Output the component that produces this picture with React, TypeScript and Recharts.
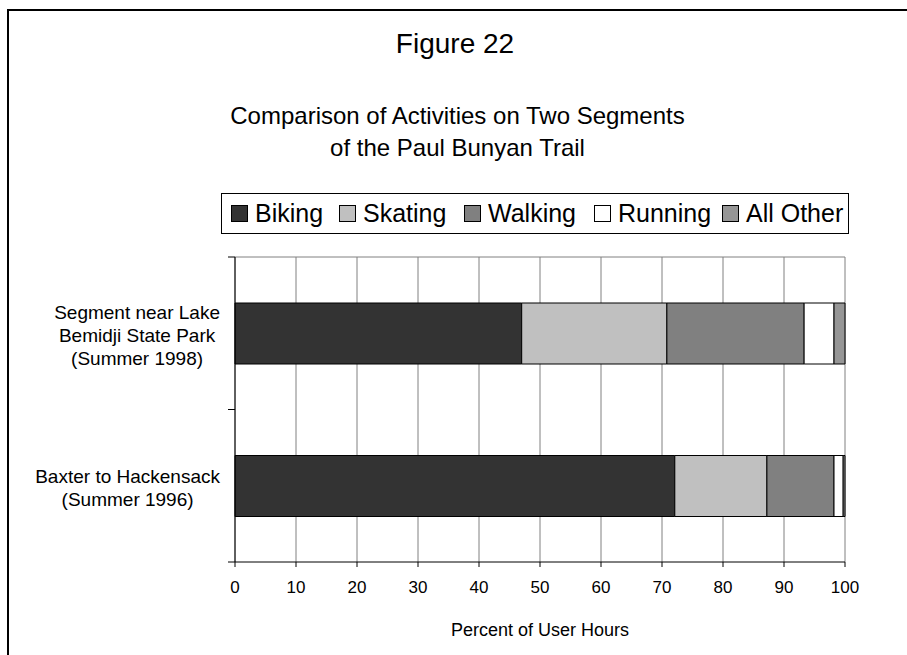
import React from "react";
import { BarChart, Bar, XAxis, YAxis, CartesianGrid, Legend } from "recharts";

const FONT = '"Liberation Sans", Arial, sans-serif';

const segments = [
  "Segment near Lake\nBemidji State Park\n(Summer 1998)",
  "Baxter to Hackensack\n(Summer 1996)",
];
const biking = [47, 72.1];
const skating = [23.8, 15.1];
const walking = [22.5, 11];
const running = [4.9, 1.5];
const allOther = [1.8, 0.3];
const xTicks = [0, 10, 20, 30, 40, 50, 60, 70, 80, 90, 100];

const series = [
  { key: "biking", name: "Biking", color: "#333333" },
  { key: "skating", name: "Skating", color: "#c0c0c0" },
  { key: "walking", name: "Walking", color: "#808080" },
  { key: "running", name: "Running", color: "#ffffff" },
  { key: "allOther", name: "All Other", color: "#969696" },
];

const data = segments.map((name, i) => ({
  name,
  biking: biking[i],
  skating: skating[i],
  walking: walking[i],
  running: running[i],
  allOther: allOther[i],
}));

// plot box
const PLOT_LEFT = 235;
const PLOT_TOP = 257;
const PLOT_BOTTOM = 562;
const PLOT_RIGHT = 845;
const HALF_BAND = (PLOT_BOTTOM - PLOT_TOP) / segments.length / 2;

const LABEL_SIZE = 19;
const LABEL_LINE = 23;

// legend swatch x offsets inside the legend box
const LEGEND_X = [9, 117, 242, 372, 500];

let ctx: CanvasRenderingContext2D | null = null;
function textWidth(s: string, size: number) {
  if (!ctx) ctx = document.createElement("canvas").getContext("2d");
  if (!ctx) return s.length * size * 0.5;
  ctx.font = `${size}px ${FONT}`;
  return ctx.measureText(s).width;
}

function SegmentTick(props: any) {
  const { y, payload } = props;
  const lines: string[] = String(payload.value).split("\n");
  const w = Math.max(...lines.map((l) => textWidth(l, LABEL_SIZE)));
  const cx = 220 - w / 2;
  const startY = y + 2 - ((lines.length - 1) * LABEL_LINE) / 2;
  return (
    <g>
      <line x1={PLOT_LEFT - 7} x2={PLOT_LEFT} y1={y - HALF_BAND} y2={y - HALF_BAND} stroke="#000" />
      <line x1={PLOT_LEFT - 7} x2={PLOT_LEFT} y1={y + HALF_BAND} y2={y + HALF_BAND} stroke="#000" />
      <text x={cx} y={startY} textAnchor="middle" dominantBaseline="central" fontSize={LABEL_SIZE} fontFamily={FONT} fill="#000">
        {lines.map((l, i) => (
          <tspan key={i} x={cx} dy={i === 0 ? 0 : LABEL_LINE}>
            {l}
          </tspan>
        ))}
      </text>
    </g>
  );
}

function LegendBox() {
  return (
    <div
      style={{
        position: "absolute",
        left: 221,
        top: 193,
        width: 628,
        height: 41,
        border: "1px solid #000",
        boxSizing: "border-box",
        fontFamily: FONT,
        fontSize: 25,
        color: "#000",
      }}
    >
      {series.map((s, i) => (
        <div
          key={s.key}
          style={{
            position: "absolute",
            left: LEGEND_X[i],
            top: 0,
            height: 39,
            display: "flex",
            alignItems: "center",
            whiteSpace: "nowrap",
          }}
        >
          <span
            style={{
              display: "inline-block",
              width: 15,
              height: 15,
              background: s.color,
              border: "1px solid #000",
              marginRight: 7,
            }}
          />
          <span>{s.name}</span>
        </div>
      ))}
    </div>
  );
}

export default function App() {
  return (
    <div
      style={{
        position: "absolute",
        left: 0,
        top: 0,
        width: 907,
        height: 655,
        overflow: "hidden",
        background: "#fff",
        fontFamily: FONT,
      }}
    >
      <div
        style={{
          position: "absolute",
          left: 7,
          top: 9,
          width: 1000,
          height: 1000,
          border: "2px solid #000",
        }}
      />
      <div style={{ position: "absolute", left: 0, width: 910, top: 28, textAlign: "center", fontSize: 28 }}>Figure 22</div>
      <div
        style={{
          position: "absolute",
          left: 0,
          width: 915,
          top: 100,
          textAlign: "center",
          fontSize: 24,
          lineHeight: "32px",
        }}
      >
        Comparison of Activities on Two Segments
        <br />
        of the Paul Bunyan Trail
      </div>
      <div style={{ position: "absolute", top: 0, left: 0 }}>
        <BarChart
          width={907}
          height={655}
          data={data}
          layout="vertical"
          barSize={61}
          margin={{ top: PLOT_TOP, right: 907 - PLOT_RIGHT, bottom: 655 - PLOT_BOTTOM - 30, left: PLOT_LEFT - 200 }}
        >
          <CartesianGrid
            stroke="#808080"
            vertical
            horizontal
            horizontalPoints={[PLOT_TOP]}
          />
          <XAxis
            type="number"
            domain={[0, 100]}
            ticks={xTicks}
            height={30}
            axisLine={{ stroke: "#000" }}
            tickLine={{ stroke: "#000" }}
            tickSize={5}
            tick={{ fontSize: 17, fill: "#000", fontFamily: FONT }}
            tickMargin={14}
          />
          <YAxis
            type="category"
            dataKey="name"
            width={200}
            axisLine={{ stroke: "#000" }}
            tickLine={false}
            tick={<SegmentTick />}
            interval={0}
          />
          {series.map((s) => (
            <Bar
              key={s.key}
              dataKey={s.key}
              name={s.name}
              stackId="a"
              fill={s.color}
              stroke="#000"
              strokeWidth={1}
              isAnimationActive={false}
            />
          ))}
          <Legend content={() => null} />
        </BarChart>
      </div>
      <LegendBox />
      <div
        style={{
          position: "absolute",
          left: PLOT_LEFT,
          width: PLOT_RIGHT - PLOT_LEFT,
          top: 620,
          textAlign: "center",
          fontSize: 18,
        }}
      >
        Percent of User Hours
      </div>
    </div>
  );
}
